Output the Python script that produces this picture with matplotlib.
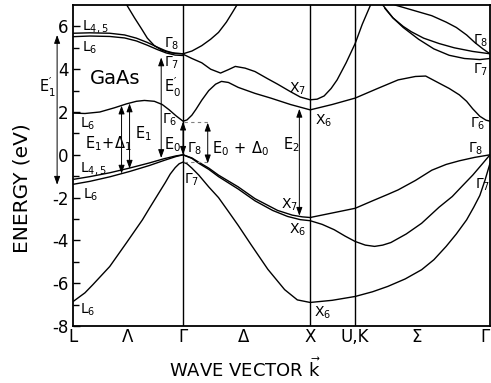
import matplotlib
matplotlib.use("Agg")
import matplotlib.pyplot as plt

plt.rcParams['font.family'] = ['DejaVu Sans']
plt.rcParams['mathtext.default'] = 'regular'
plt.rcParams['axes.unicode_minus'] = False

# symmetry points (path coordinate, units of 2*pi/a)
sym_k = [0.0, 0.866, 1.866, 2.220, 3.281]
tick_k = [0.0, 0.43, 0.866, 1.339, 1.866, 2.220, 2.702, 3.281]
tick_labels = ['L', 'Λ', 'Γ', 'Δ', 'X', 'U,K', 'Σ', 'Γ']

# ---- valence bands ----
vb_low_k = [0.0, 0.094, 0.156, 0.289, 0.421, 0.546, 0.601, 0.679, 0.726, 0.765, 0.804, 0.835, 0.866,
            0.897, 0.935, 0.990, 1.068, 1.145, 1.223, 1.300, 1.401, 1.533, 1.665, 1.765, 1.866,
            2.039, 2.220, 2.357, 2.477, 2.614, 2.743, 2.840, 2.936, 3.016, 3.097, 3.153, 3.201, 3.241, 3.281]
vb_low_e = [-6.86, -6.45, -6.07, -5.22, -4.11, -3.04, -2.5, -1.75, -1.3, -0.9, -0.6, -0.42, -0.34,
            -0.42, -0.62, -0.95, -1.5, -2.0, -2.65, -3.3, -4.2, -5.35, -6.3, -6.78, -6.9,
            -6.8, -6.62, -6.4, -6.15, -5.8, -5.37, -4.9, -4.28, -3.7, -3.04, -2.45, -1.9, -1.2, -0.4]

vb_hh_k = [0.0, 0.133, 0.289, 0.445, 0.601, 0.718, 0.811, 0.866,
           0.936, 0.990, 1.068, 1.145, 1.300, 1.432, 1.610, 1.726, 1.804, 1.866,
           2.039, 2.220, 2.357, 2.477, 2.558, 2.694, 2.823, 2.936, 3.040, 3.161, 3.281]
vb_hh_e = [-1.15, -1.02, -0.84, -0.62, -0.38, -0.18, -0.05, 0.0,
           -0.15, -0.35, -0.62, -0.95, -1.5, -2.05, -2.6, -2.82, -2.9, -2.93,
           -2.72, -2.5, -2.15, -1.85, -1.64, -1.2, -0.72, -0.45, -0.28, -0.12, 0.0]

vb_lh_k = [0.0, 0.133, 0.289, 0.445, 0.601, 0.718, 0.811, 0.866,
           0.936, 0.990, 1.068, 1.145, 1.300, 1.432, 1.571, 1.688, 1.788, 1.866,
           1.960, 2.055, 2.141, 2.220, 2.300, 2.373, 2.437, 2.501, 2.622, 2.743, 2.880,
           2.984, 3.064, 3.145, 3.217, 3.281]
vb_lh_e = [-1.38, -1.24, -1.03, -0.78, -0.5, -0.26, -0.08, 0.0,
           -0.17, -0.4, -0.68, -1.02, -1.6, -2.15, -2.6, -2.88, -3.03, -3.08,
           -3.25, -3.5, -3.8, -4.05, -4.22, -4.28, -4.22, -4.1, -3.7, -3.2, -2.45,
           -1.95, -1.45, -0.95, -0.45, 0.0]

# ---- conduction bands ----
cb1_k = [0.0, 0.094, 0.211, 0.328, 0.421, 0.499, 0.562, 0.640, 0.702, 0.757, 0.811, 0.866,
         0.897, 0.935, 0.967, 1.013, 1.068, 1.122, 1.168, 1.223, 1.300, 1.432, 1.556, 1.711, 1.866,
         2.039, 2.220, 2.397, 2.558, 2.694, 2.775, 2.880, 2.960, 3.040, 3.097, 3.145, 3.201, 3.249, 3.281]
cb1_e = [1.95, 1.93, 2.0, 2.2, 2.38, 2.5, 2.54, 2.5, 2.35, 2.1, 1.82, 1.57,
         1.63, 1.85, 2.12, 2.55, 3.0, 3.3, 3.43, 3.38, 3.15, 2.87, 2.65, 2.35, 2.1,
         2.35, 2.65, 3.1, 3.5, 3.66, 3.68, 3.35, 3.1, 2.8, 2.5, 2.15, 1.8, 1.62, 1.57]

cb2_k = [0.866, 0.936, 1.013, 1.083, 1.161, 1.223, 1.277, 1.354, 1.432, 1.533, 1.610, 1.711, 1.788, 1.866,
         1.921, 1.976, 2.031, 2.078, 2.149, 2.220, 2.276, 2.341, 2.365]
cb2_e = [4.7, 4.5, 4.3, 4.0, 3.82, 3.98, 4.13, 4.05, 3.89, 3.55, 3.3, 2.95, 2.7, 2.57,
         2.6, 2.75, 3.1, 3.5, 4.3, 5.2, 6.1, 7.0, 7.3]

cbL45_k = [0.0, 0.133, 0.289, 0.406, 0.499, 0.585, 0.663, 0.733, 0.803, 0.866]
cbL45_e = [5.68, 5.70, 5.68, 5.60, 5.45, 5.25, 5.03, 4.85, 4.74, 4.72]
cbL6_e = [5.52, 5.55, 5.53, 5.46, 5.32, 5.12, 4.92, 4.76, 4.66, 4.64]

cbpar_k = [0.413, 0.484, 0.538, 0.585, 0.640, 0.702, 0.772, 0.866,
           0.936, 1.013, 1.083, 1.145, 1.207, 1.254, 1.300]
cbpar_e = [7.1, 6.4, 5.9, 5.45, 5.1, 4.88, 4.76, 4.72,
           4.85, 5.1, 5.4, 5.72, 6.2, 6.65, 7.1]

cbSa_k = [2.533, 2.678, 2.823, 2.936, 3.016, 3.097, 3.161, 3.225, 3.281]
cbSa_e = [7.0, 6.75, 6.5, 6.2, 5.95, 5.6, 5.25, 4.95, 4.72]
cbSb_k = [2.437, 2.517, 2.598, 2.662, 2.759, 2.880, 3.000, 3.145, 3.281]
cbSb_e = [7.0, 6.4, 6.0, 5.75, 5.45, 5.2, 5.0, 4.83, 4.72]
cbSc_k = [2.453, 2.517, 2.598, 2.719, 2.839, 2.960, 3.080, 3.201, 3.281]
cbSc_e = [6.85, 6.4, 5.95, 5.4, 4.95, 4.65, 4.5, 4.45, 4.5]

bands = [(vb_low_k, vb_low_e), (vb_hh_k, vb_hh_e), (vb_lh_k, vb_lh_e),
         (cb1_k, cb1_e), (cb2_k, cb2_e), (cbL45_k, cbL45_e), (cbL45_k, cbL6_e),
         (cbpar_k, cbpar_e), (cbSa_k, cbSa_e), (cbSb_k, cbSb_e), (cbSc_k, cbSc_e)]

# ---- level labels: (text, k, E) ----
level_labels = [
    (r'$L_{4,5}$', 0.07, 6.0), (r'$L_6$', 0.07, 4.98), (r'$\Gamma_8$', 0.718, 5.21),
    (r'$\Gamma_7$', 0.718, 4.28), (r'$\Gamma_6$', 0.702, 1.64), (r'$\Gamma_8$', 0.897, 0.30),
    (r'$\Gamma_7$', 0.874, -1.17), (r'$L_6$', 0.055, 1.43), (r'$L_{4,5}$', 0.055, -0.65),
    (r'$L_6$', 0.078, -1.87), (r'$L_6$', 0.055, -7.24),
    (r'$X_7$', 1.703, 3.1), (r'$X_6$', 1.905, 1.57), (r'$X_7$', 1.633, -2.34),
    (r'$X_6$', 1.703, -3.5), (r'$X_6$', 1.897, -7.38),
    (r'$\Gamma_8$', 3.145, 5.33), (r'$\Gamma_7$', 3.145, 3.95), (r'$\Gamma_6$', 3.121, 1.43),
    (r'$\Gamma_8$', 3.105, 0.30), (r'$\Gamma_7$', 3.161, -1.38),
]
transition_labels = [
    (r"$E_0'$", 0.718, 3.15), (r'$E_0$', 0.718, 0.47), (r'$E_1\!+\!\Delta_1$', 0.094, 0.54),
    (r'$E_1$', 0.484, 1.0), (r'$E_0\,+\,\Delta_0$', 1.091, 0.30), (r'$E_2$', 1.649, 0.47),
    (r"$E_1'$", -0.27, 3.15),
]
# ---- transition arrows: (k, E_bottom, E_top) ----
arrows = [(-0.125, -1.4, 5.6), (0.382, -0.88, 2.3), (0.445, -0.65, 2.4),
          (0.694, -0.15, 4.55), (0.866, 0.0, 1.55), (1.060, -0.4, 1.5), (1.781, -2.85, 2.15)]

fig = plt.figure(figsize=(4.91, 3.83), dpi=100)
ax = fig.add_axes([73/491, 1-326/383, 417/491, 321/383])

for kk, ee in bands:
    ax.plot(kk, ee, color='black', lw=1.0, solid_capstyle='round', solid_joinstyle='round')

for ks in sym_k[1:4]:
    ax.axvline(ks, color='black', lw=1.0)

# dashed guide lines for E0 + Delta0
ax.plot([0.87, 1.06], [1.55, 1.55], color='0.5', lw=0.8, ls=(0, (3, 3)))
ax.plot([0.87, 1.06], [-0.34, -0.34], color='0.5', lw=0.8, ls=(0, (3, 3)))

for txt, kx, ey in level_labels:
    ax.text(kx, ey, txt, fontsize=10, ha='left', va='center')
for txt, kx, ey in transition_labels:
    ax.text(kx, ey, txt, fontsize=10.5, ha='left', va='center', clip_on=False)
ax.text(0.133, 3.57, 'GaAs', fontsize=14, ha='left', va='center')

for kx, e0, e1 in arrows:
    ax.annotate('', xy=(kx, e1), xytext=(kx, e0), annotation_clip=False,
                arrowprops=dict(arrowstyle='<|-|>,head_length=0.5,head_width=0.18',
                                color='black', lw=0.7, shrinkA=0, shrinkB=0))

ax.set_xlim(sym_k[0], sym_k[-1])
ax.set_ylim(-8, 7)
ax.set_yticks([-8, -6, -4, -2, 0, 2, 4, 6])
ax.set_yticks([-7, -5, -3, -1, 1, 3, 5], minor=True)
ax.set_xticks(tick_k)
ax.set_xticklabels(tick_labels)
ax.get_xticklabels()[-1].set_ha('right')
ax.tick_params(axis='y', which='major', direction='in', length=5, width=1, labelsize=12, pad=3)
ax.tick_params(axis='y', which='minor', direction='in', length=4, width=1)
ax.tick_params(axis='x', length=0, labelsize=12, pad=1.5)
for s in ax.spines.values():
    s.set_linewidth(1.3)

fig.text(22/491, 1-188/383, 'ENERGY (eV)', rotation=90, ha='center', va='center', fontsize=14.5)
fig.text(245/491, 1-369/383, r'WAVE VECTOR $\vec{k}$', ha='center', va='center', fontsize=13)

fig.savefig('out.png', dpi=100)
